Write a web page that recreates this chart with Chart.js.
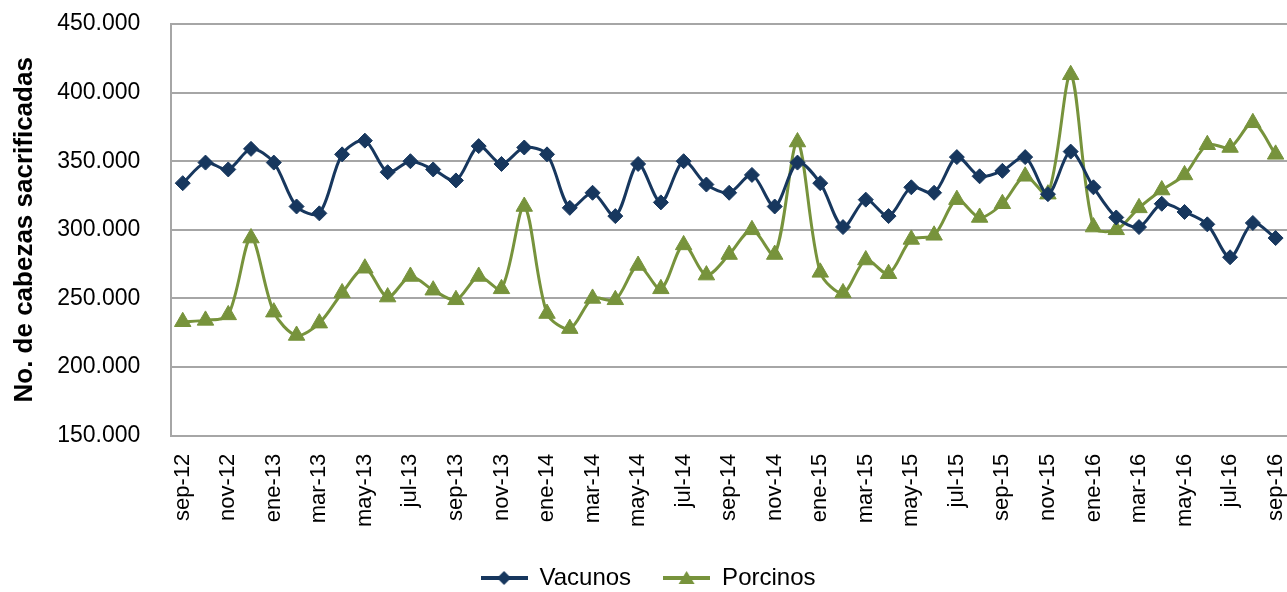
<!DOCTYPE html>
<html>
<head>
<meta charset="utf-8">
<script src="https://cdn.jsdelivr.net/npm/chart.js@4/dist/chart.umd.min.js"></script>
<style>
  html, body { margin: 0; padding: 0; background: #fff; }
  #wrap { width: 1287px; height: 592px; }
</style>
</head>
<body>
<div id="wrap"><canvas id="chart" width="1287" height="592"></canvas></div>
<script>
const labels = [
    'sep-12','oct-12','nov-12','dic-12','ene-13','feb-13','mar-13','abr-13','may-13','jun-13','jul-13','ago-13',
    'sep-13','oct-13','nov-13','dic-13','ene-14','feb-14','mar-14','abr-14','may-14','jun-14','jul-14','ago-14',
    'sep-14','oct-14','nov-14','dic-14','ene-15','feb-15','mar-15','abr-15','may-15','jun-15','jul-15','ago-15',
    'sep-15','oct-15','nov-15','dic-15','ene-16','feb-16','mar-16','abr-16','may-16','jun-16','jul-16','ago-16',
    'sep-16'
];

// cabezas sacrificadas
const vacunos = [
    334000, 349000, 344000, 359000, 349000, 317000, 312000, 355000, 365000, 342000, 350000, 344000,
    336000, 361000, 348000, 360000, 355000, 316000, 327000, 310000, 348000, 320000, 350000, 333000,
    327000, 340000, 317000, 349000, 334000, 302000, 322000, 310000, 331000, 327000, 353000, 339000,
    343000, 353000, 326000, 357000, 331000, 309000, 302000, 319000, 313000, 304000, 280000, 305000,
    294000
];

const porcinos = [
    233000, 234000, 238000, 294000, 240000, 223000, 232000, 254000, 272000, 251000, 266000, 256000,
    249000, 266000, 257000, 317000, 239000, 228000, 250000, 249000, 274000, 257000, 289000, 267000,
    282000, 300000, 282000, 364000, 269000, 254000, 278000, 268000, 293000, 296000, 322000, 309000,
    319000, 339000, 326000, 413000, 302000, 300000, 316000, 329000, 340000, 362000, 360000, 378000,
    355000
];

const NAVY = '#17375e';
const GREEN = '#77933c';
const GRID = '#a6a6a6';
const FONT = '"Liberation Sans", Arial, sans-serif';

// icono de leyenda: linea con marcador
function legendIcon(color, style) {
    let c = document.createElement('canvas');
    c.width = 47; c.height = 20;
    let g = c.getContext('2d');
    g.strokeStyle = color;
    g.lineWidth = 4;
    g.beginPath(); g.moveTo(0, 10); g.lineTo(47, 10); g.stroke();
    g.fillStyle = color;
    g.beginPath();
    if (style == 'rectRot') {
        g.moveTo(23.5, 3); g.lineTo(30.5, 10); g.lineTo(23.5, 17); g.lineTo(16.5, 10);
    } else {
        g.moveTo(23.5, 3); g.lineTo(31.5, 16); g.lineTo(15.5, 16);
    }
    g.closePath(); g.fill();
    return c;
}

const icons = [legendIcon(NAVY, 'rectRot'), legendIcon(GREEN, 'triangle')];

new Chart(document.getElementById('chart').getContext('2d'), {
    type: 'line',
    data: {
        labels: labels,
        datasets: [
            {
                label: 'Vacunos',
                data: vacunos,
                borderColor: NAVY,
                backgroundColor: NAVY,
                borderWidth: 3,
                pointStyle: 'rectRot',
                pointRadius: 7.5,
                pointBorderWidth: 1,
                tension: 0.3,
                fill: false
            },
            {
                label: 'Porcinos',
                data: porcinos,
                borderColor: GREEN,
                backgroundColor: GREEN,
                borderWidth: 3,
                pointStyle: 'triangle',
                pointRadius: 9.5,
                pointBorderWidth: 1,
                tension: 0.3,
                fill: false
            }
        ]
    },
    options: {
        responsive: false,
        animation: false,
        layout: { autoPadding: false, padding: { top: 24, right: 0, left: 9, bottom: -8 } },
        plugins: {
            tooltip: { enabled: false },
            legend: {
                position: 'bottom',
                labels: {
                    font: { family: FONT, size: 24 },
                    color: '#000',
                    padding: 32,
                    usePointStyle: true,
                    pointStyleWidth: 47,
                    generateLabels: function(chart) {
                        return chart.data.datasets.map(function(ds, i) {
                            return {
                                text: ds.label,
                                pointStyle: icons[i],
                                datasetIndex: i,
                                fontColor: '#000',
                                lineWidth: 0
                            };
                        });
                    }
                }
            }
        },
        scales: {
            x: {
                offset: true,
                grid: { display: false },
                border: { color: GRID, width: 2 },
                ticks: {
                    autoSkip: false,
                    minRotation: 90,
                    maxRotation: 90,
                    padding: 10,
                    color: '#000',
                    font: { family: FONT, size: 22 },
                    callback: function(val, idx) {
                        return idx % 2 == 0 ? this.getLabelForValue(val) : '';
                    }
                },
                afterFit: function(scale) {
                    scale.height -= 3;
                    scale.paddingRight = 0;
                    scale.paddingLeft = 0;
                }
            },
            y: {
                min: 150000,
                max: 450000,
                ticks: {
                    stepSize: 50000,
                    color: '#000',
                    padding: 31,
                    font: { family: FONT, size: 23 },
                    callback: v => (v / 1000) + '.000'
                },
                afterFit: function(scale) {
                    scale.width -= 30;
                    scale.paddingTop = 0;
                    scale.paddingBottom = 0;
                },
                grid: { color: GRID, lineWidth: 2, drawTicks: false },
                border: { color: GRID, width: 2 },
                title: {
                    display: true,
                    text: 'No. de cabezas sacrificadas',
                    color: '#000',
                    font: { family: FONT, size: 26, weight: 'bold' },
                    padding: { top: 0, bottom: 16 }
                }
            }
        }
    }
});
</script>
</body>
</html>
